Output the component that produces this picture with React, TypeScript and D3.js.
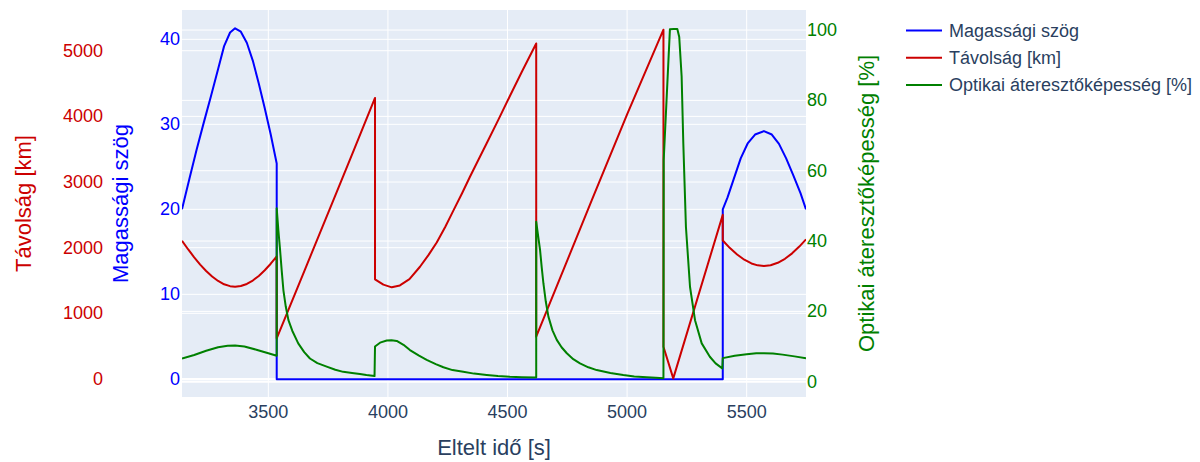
import React from "react";
import * as d3 from "d3";

// Tick values for each axis
const timeTicks = [3500, 4000, 4500, 5000, 5500];
const elevTicks = [0, 10, 20, 30, 40];
const distTicks = [0, 1000, 2000, 3000, 4000, 5000];
const transTicks = [0, 20, 40, 60, 80, 100];

// Elevation angle [deg] over elapsed time [s]
const elevTime = [
  3139, 3170, 3200, 3230, 3260, 3290, 3315, 3340, 3361, 3385, 3410, 3435, 3460, 3485, 3510, 3535,
  3535, 5400,
  5400, 5420, 5445, 5475, 5505, 5535, 5572, 5605, 5635, 5665, 5695, 5725, 5748,
];
const elevDeg = [
  20.0, 23.6, 27.0, 30.2, 33.3, 36.5, 39.2, 40.8, 41.3, 40.9, 39.6, 37.5, 34.8, 31.9, 28.8, 25.4,
  0, 0,
  20.0, 21.4, 23.5, 26.0, 27.8, 28.8, 29.2, 28.8, 27.7, 26.0, 24.0, 21.9, 20.0,
];

// Distance [km]
const distTime = [
  3139, 3165, 3190, 3215, 3240, 3265, 3290, 3315, 3340, 3361, 3385, 3410, 3435, 3460, 3485, 3510, 3535,
  3535, 3650, 3772, 3860, 3946,
  3946, 3981, 4016, 4050, 4090, 4134, 4170, 4204, 4240, 4273, 4310, 4343, 4380, 4413, 4462, 4510, 4560, 4620,
  4620, 4852, 5000, 5152,
  5152, 5193, 5400,
  5400, 5430, 5460, 5490, 5520, 5546, 5572, 5600, 5630, 5660, 5690, 5720, 5748,
];
const distKm = [
  2106, 1973, 1853, 1743, 1645, 1561, 1493, 1443, 1414, 1406, 1416, 1448, 1500, 1570, 1656, 1756, 1867,
  620, 1640, 2726, 3510, 4280,
  1518, 1437, 1396, 1425, 1520, 1710, 1890, 2080, 2320, 2560, 2830, 3081, 3350, 3590, 3950, 4310, 4680, 5110,
  644, 2720, 4030, 5320,
  492, 10, 2500,
  2110, 1994, 1896, 1817, 1760, 1731, 1721, 1732, 1770, 1831, 1914, 2017, 2127,
];

// Optical transmittance [%]
const transTime = [
  3139, 3190, 3240, 3290, 3330, 3361, 3400, 3450, 3500, 3535,
  3535, 3542, 3549, 3556, 3563, 3573, 3584, 3600, 3625, 3650, 3674, 3705, 3744, 3780, 3813, 3850, 3883, 3910, 3944,
  3946, 3967, 3995, 4015, 4037, 4065, 4092, 4130, 4162, 4200, 4232, 4270, 4315, 4360, 4413, 4460, 4510, 4560, 4620,
  4620, 4628, 4636, 4643, 4650, 4660, 4671, 4688, 4706, 4726, 4748, 4775, 4803, 4838, 4873, 4930, 4984, 5030, 5082, 5120, 5152,
  5153, 5179, 5195, 5210, 5218, 5228, 5235, 5246, 5263, 5284, 5312, 5346, 5370, 5398,
  5400, 5450, 5500, 5540, 5572, 5610, 5650, 5700, 5748,
];
const transPct = [
  6.6, 7.6, 8.8, 9.8, 10.2, 10.3, 10.0, 9.1, 8.1, 7.4,
  49.3, 43.0, 37.5, 31.5, 26.0, 21.3, 17.5, 14.5, 10.9, 8.4, 6.6, 5.3, 4.3, 3.4, 2.8, 2.5, 2.2, 1.9, 1.6,
  10.0, 11.1, 11.7, 11.8, 11.6, 10.5, 9.0, 7.4, 6.2, 5.0, 4.1, 3.3, 2.8, 2.3, 1.9, 1.6, 1.4, 1.3, 1.2,
  45.5, 41.5, 37.5, 32.5, 28.0, 22.8, 18.5, 14.6, 11.9, 9.8, 8.1, 6.4, 5.2, 4.1, 3.3, 2.5, 1.9, 1.5, 1.25, 1.1, 1.0,
  63, 100.2, 100.3, 100.3, 98, 86.8, 67.8, 44, 27, 17.5, 10.9, 7.1, 5.2, 3.8,
  6.7, 7.4, 7.8, 8.1, 8.1, 8.0, 7.7, 7.2, 6.7,
];

const seriesNames = ["Magassági szög", "Távolság [km]", "Optikai áteresztőképesség [%]"];

const W = 1200;
const H = 462;
const plot = { left: 182, right: 806, top: 10, bottom: 397 };

const BLUE = "#0000ff";
const RED = "#cc0000";
const GREEN = "#008000";
const INK = "#2a3f5f";
const FONT = "'Liberation Sans', Arial, Helvetica, sans-serif";

export default function App() {
  const x = d3.scaleLinear().domain([3139, 5748]).range([plot.left, plot.right]);
  const yElev = d3.scaleLinear().domain([-2.08, 43.45]).range([plot.bottom, plot.top]);
  const yDist = d3.scaleLinear().domain([-274, 5620]).range([plot.bottom, plot.top]);
  const yTrans = d3.scaleLinear().domain([-4.35, 105.7]).range([plot.bottom, plot.top]);

  const path = (ts: number[], vs: number[], y: d3.ScaleLinear<number, number>) =>
    d3
      .line<number>()
      .x((_, i) => x(ts[i]))
      .y((v) => y(v))(vs) || "";

  const legendColors = [BLUE, RED, GREEN];
  const midY = (plot.top + plot.bottom) / 2;

  const hGrid = (ticks: number[], y: d3.ScaleLinear<number, number>, key: string) =>
    ticks.map((t) => (
      <line
        key={key + t}
        x1={plot.left}
        x2={plot.right}
        y1={y(t)}
        y2={y(t)}
        stroke="#ffffff"
        strokeWidth={t === 0 ? 2 : 1}
      />
    ));

  return (
    <svg
      width={W}
      height={H}
      style={{ position: "absolute", left: 0, top: 0, background: "#ffffff" }}
      fontFamily={FONT}
    >
      <defs>
        <clipPath id="plotClip">
          <rect x={plot.left} y={plot.top} width={plot.right - plot.left} height={plot.bottom - plot.top} />
        </clipPath>
      </defs>
      <rect
        x={plot.left}
        y={plot.top}
        width={plot.right - plot.left}
        height={plot.bottom - plot.top}
        fill="#e5ecf6"
      />
      {timeTicks.map((t) => (
        <line key={"xg" + t} x1={x(t)} x2={x(t)} y1={plot.top} y2={plot.bottom} stroke="#ffffff" strokeWidth={1} />
      ))}
      {hGrid(elevTicks, yElev, "ge")}
      {hGrid(distTicks, yDist, "gd")}
      {hGrid(transTicks, yTrans, "gt")}

      <g clipPath="url(#plotClip)" fill="none" strokeWidth={2} strokeLinejoin="round">
        <path d={path(elevTime, elevDeg, yElev)} stroke={BLUE} />
        <path d={path(distTime, distKm, yDist)} stroke={RED} />
        <path d={path(transTime, transPct, yTrans)} stroke={GREEN} />
      </g>

      {/* x axis */}
      {timeTicks.map((t) => (
        <text key={"xt" + t} x={x(t)} y={412} fill={INK} fontSize={18} textAnchor="middle" dominantBaseline="central">
          {t}
        </text>
      ))}
      <text x={(plot.left + plot.right) / 2} y={447} fill={INK} fontSize={22} textAnchor="middle" dominantBaseline="central">
        Eltelt idő [s]
      </text>

      {/* distance axis (outer left) */}
      {distTicks.map((t) => (
        <text key={"dt" + t} x={103} y={yDist(t)} fill={RED} fontSize={18} textAnchor="end" dominantBaseline="central">
          {t}
        </text>
      ))}
      <text
        transform={`translate(23,${midY}) rotate(-90)`}
        fill={RED}
        fontSize={22}
        textAnchor="middle"
        dominantBaseline="central"
      >
        Távolság [km]
      </text>

      {/* elevation axis (inner left) */}
      {elevTicks.map((t) => (
        <text key={"et" + t} x={180} y={yElev(t)} fill={BLUE} fontSize={18} textAnchor="end" dominantBaseline="central">
          {t}
        </text>
      ))}
      <text
        transform={`translate(120,${midY}) rotate(-90)`}
        fill={BLUE}
        fontSize={22}
        textAnchor="middle"
        dominantBaseline="central"
      >
        Magassági szög
      </text>

      {/* transmittance axis (right) */}
      {transTicks.map((t) => (
        <text key={"tt" + t} x={807} y={yTrans(t)} fill={GREEN} fontSize={18} textAnchor="start" dominantBaseline="central">
          {t}
        </text>
      ))}
      <text
        transform={`translate(866,${midY}) rotate(-90)`}
        fill={GREEN}
        fontSize={22}
        textAnchor="middle"
        dominantBaseline="central"
      >
        Optikai áteresztőképesség [%]
      </text>

      {/* legend */}
      {seriesNames.map((name, i) => {
        const ly = 30.5 + i * 27.2;
        return (
          <g key={name}>
            <line x1={906} x2={942} y1={ly} y2={ly} stroke={legendColors[i]} strokeWidth={2} />
            <text x={949} y={ly} fill={INK} fontSize={18} dominantBaseline="central">
              {name}
            </text>
          </g>
        );
      })}
    </svg>
  );
}
